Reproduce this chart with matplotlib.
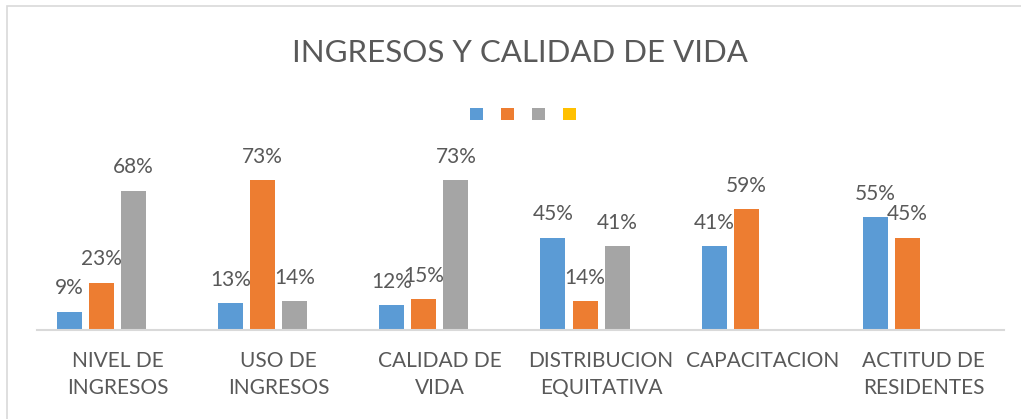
import matplotlib
matplotlib.use("Agg")
import matplotlib.pyplot as plt
import numpy as np
from matplotlib.patches import Patch, Rectangle

plt.rcParams['font.family'] = ['Lato', 'DejaVu Sans']

# data
categories = ["NIVEL DE\nINGRESOS", "USO DE\nINGRESOS", "CALIDAD DE\nVIDA",
              "DISTRIBUCION\nEQUITATIVA", "CAPACITACION", "ACTITUD DE\nRESIDENTES"]
serie1 = [9, 13, 12, 45, 41, 55]
serie2 = [23, 73, 15, 14, 59, 45]
serie3 = [68, 14, 73, 41, np.nan, np.nan]
serie4 = [np.nan, np.nan, np.nan, np.nan, np.nan, np.nan]

series = [serie1, serie2, serie3, serie4]
colors = ['#5B9BD5', '#ED7D31', '#A5A5A5', '#FFC000']
text_color = '#595959'

W, H = 1021, 419
fig = plt.figure(figsize=(W / 100, H / 100), dpi=100)
ax = fig.add_axes([37 / W, (H - 330) / H, (1004 - 37) / W, (330 - 166) / H])

x = np.arange(len(categories))
step = 0.199
width = 0.155

for i, (vals, c) in enumerate(zip(series, colors)):
    pos = x + (i - 1.5) * step
    ax.bar(pos, vals, width=width, color=c, linewidth=0)
    for p, v in zip(pos, vals):
        if not np.isnan(v):
            ax.annotate(f"{v:.0f}%", (p, v), xytext=(0, 12.5), textcoords='offset points',
                        ha='center', va='baseline', fontsize=15, color=text_color)

ax.set_xlim(-0.5, len(categories) - 0.5)
ax.set_ylim(0, 80)
ax.set_yticks([])
ax.set_xticks(x)
ax.set_xticklabels(categories, fontsize=15, color=text_color, linespacing=1.45)
ax.tick_params(axis='x', length=0, pad=15)
for s in ['top', 'right', 'left']:
    ax.spines[s].set_visible(False)
ax.spines['bottom'].set_color('#D9D9D9')
ax.spines['bottom'].set_linewidth(1.5)

fig.text(520 / W, 1 - 62 / H, "INGRESOS Y CALIDAD DE VIDA", ha='center', va='baseline',
         fontsize=22.5, color=text_color)

handles = [Patch(facecolor=c, edgecolor='none') for c in colors]
fig.legend(handles, [''] * 4, ncol=4, loc='center', bbox_to_anchor=(523 / W, 1 - 114 / H),
           frameon=False, fontsize=10, handlelength=0.94, handleheight=0.94,
           handletextpad=0, columnspacing=1.3)

# chart area border (only top and left edges are visible in the crop)
fig.patches.append(Rectangle((7 / W, -0.1), 1.2, 1.1 - 6 / H, transform=fig.transFigure,
                             fill=False, edgecolor='#D9D9D9', linewidth=1.2))

fig.savefig("out.png", dpi=100)
